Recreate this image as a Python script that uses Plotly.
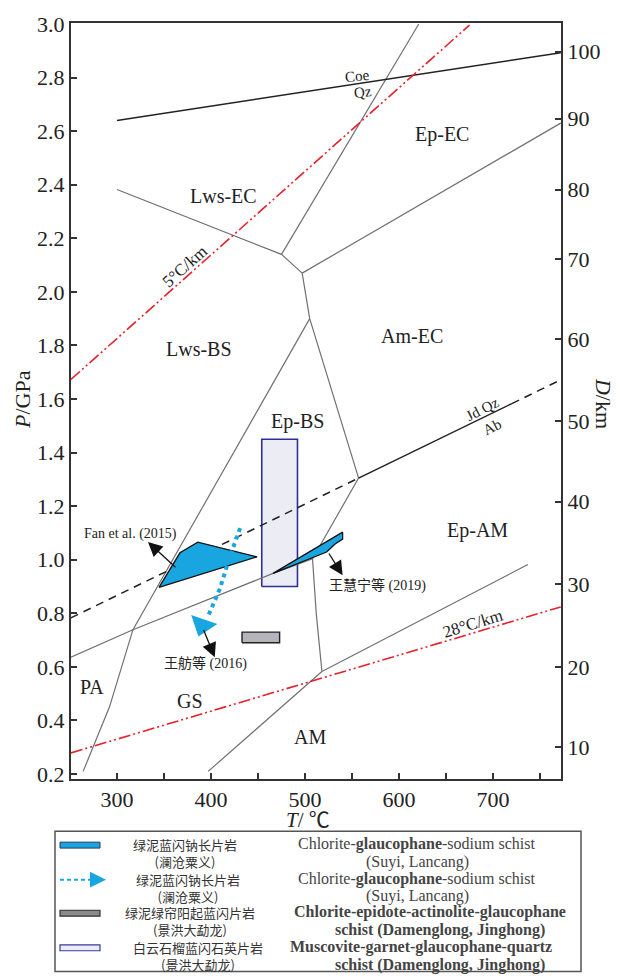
import plotly.graph_objects as go

# ---------------- data (T in °C, P in GPa) ----------------
coe_qz_T = [300, 772]
coe_qz_P = [2.64, 2.893]

lws_ec_low_T = [300, 475, 497]
lws_ec_low_P = [2.382, 2.14, 2.07]

lws_ep_ec_T = [475, 621]
lws_ep_ec_P = [2.14, 3.0]

ep_am_ec_T = [497, 772]
ep_am_ec_P = [2.07, 2.63]

am_ec_west_T = [497, 505, 557]
am_ec_west_P = [2.07, 1.90, 1.305]

lws_epbs_T = [505, 317, 292, 264]
lws_epbs_P = [1.90, 0.739, 0.45, 0.21]

gs_epbs_T = [251, 317, 466, 508, 557]
gs_epbs_P = [0.636, 0.739, 0.949, 1.004, 1.305]

gs_epam_T = [508, 512, 518]
gs_epam_P = [1.004, 0.798, 0.583]

epam_am_T = [518, 737]
epam_am_P = [0.583, 0.982]

gs_am_T = [518, 397]
gs_am_P = [0.583, 0.21]

jdqz_dash1_T = [251, 557]
jdqz_dash1_P = [0.783, 1.305]
jdqz_solid_T = [557, 720]
jdqz_solid_P = [1.305, 1.583]
jdqz_dash2_T = [720, 768]
jdqz_dash2_P = [1.583, 1.665]

geo5_T = [251, 675]
geo5_P = [1.673, 2.996]
geo28_T = [251, 772]
geo28_P = [0.279, 0.824]

fan_T = [344.7, 367, 386, 449, 344.7]
fan_P = [0.897, 1.026, 1.066, 1.011, 0.897]

wang19_T = [466, 540, 540, 532, 523, 466]
wang19_P = [0.949, 1.103, 1.077, 1.059, 1.029, 0.949]

epbs_rect_T = [454, 492]
epbs_rect_P = [0.90, 1.45]

gray_rect_T = [433, 473]
gray_rect_P = [0.69, 0.73]

path16_T = [431, 420, 409.6, 397]
path16_P = [1.118, 1.011, 0.893, 0.79]
path16_head_T = [390.8]
path16_head_P = [0.756]

depth_labels = ["100", "90", "80", "70", "60", "50", "40", "30", "20", "10"]
depth_P = [2.897, 2.647, 2.382, 2.121, 1.824, 1.518, 1.217, 0.908, 0.599, 0.301]

x_ticks = [300, 350, 400, 450, 500, 550, 600, 650, 700, 750]
x_ticktext = ["300", "", "400", "", "500", "", "600", "", "700", ""]
y_ticks = [0.2, 0.4, 0.6, 0.8, 1.0, 1.2, 1.4, 1.6, 1.8, 2.0, 2.2, 2.4, 2.6, 2.8, 3.0]

# ---------------- styles ----------------
SERIF = "Liberation Serif, Times New Roman, Noto Sans CJK SC"
CJK = "Noto Sans CJK SC"
GRAY = "#707070"
BLK = "#222222"
RED = "#e8202a"
BLUE = "#19a6e0"
REDDASH = "12px,3px,2px,3px,2px,3px"

fig = go.Figure()

def line(T, P, color=GRAY, width=1.2, dash="solid"):
    fig.add_trace(go.Scatter(x=T, y=P, mode="lines",
                             line=dict(color=color, width=width, dash=dash),
                             hoverinfo="skip", showlegend=False))

# Ep-BS rectangle
fig.add_trace(go.Scatter(
    x=[epbs_rect_T[0], epbs_rect_T[1], epbs_rect_T[1], epbs_rect_T[0], epbs_rect_T[0]],
    y=[epbs_rect_P[0], epbs_rect_P[0], epbs_rect_P[1], epbs_rect_P[1], epbs_rect_P[0]],
    mode="lines", fill="toself", fillcolor="#ececf5",
    line=dict(color="#2e2e9a", width=1.6), hoverinfo="skip", showlegend=False))

for T, P in [(lws_ec_low_T, lws_ec_low_P), (lws_ep_ec_T, lws_ep_ec_P),
             (ep_am_ec_T, ep_am_ec_P), (am_ec_west_T, am_ec_west_P),
             (lws_epbs_T, lws_epbs_P), (gs_epbs_T, gs_epbs_P),
             (gs_epam_T, gs_epam_P), (epam_am_T, epam_am_P), (gs_am_T, gs_am_P)]:
    line(T, P)

line(coe_qz_T, coe_qz_P, color=BLK, width=1.5)
line(jdqz_dash1_T, jdqz_dash1_P, color=BLK, width=1.5, dash="8px,6px")
line(jdqz_solid_T, jdqz_solid_P, color=BLK, width=1.5)
line(jdqz_dash2_T, jdqz_dash2_P, color=BLK, width=1.5, dash="8px,6px")
line(geo5_T, geo5_P, color=RED, width=1.6, dash=REDDASH)
line(geo28_T, geo28_P, color=RED, width=1.6, dash=REDDASH)

# blue polygons
for T, P in [(fan_T, fan_P), (wang19_T, wang19_P)]:
    fig.add_trace(go.Scatter(x=T, y=P, mode="lines", fill="toself", fillcolor=BLUE,
                             line=dict(color="#111111", width=1.3),
                             hoverinfo="skip", showlegend=False))

# gray rectangle
fig.add_trace(go.Scatter(
    x=[gray_rect_T[0], gray_rect_T[1], gray_rect_T[1], gray_rect_T[0], gray_rect_T[0]],
    y=[gray_rect_P[0], gray_rect_P[0], gray_rect_P[1], gray_rect_P[1], gray_rect_P[0]],
    mode="lines", fill="toself", fillcolor="#b4b4ba",
    line=dict(color="#222222", width=1.4), hoverinfo="skip", showlegend=False))

# dotted path with arrowhead
fig.add_trace(go.Scatter(x=path16_T, y=path16_P, mode="lines",
                         line=dict(color=BLUE, width=4, dash="4px,4px"),
                         hoverinfo="skip", showlegend=False))
fig.add_trace(go.Scatter(x=path16_head_T, y=path16_head_P, mode="markers",
                         marker=dict(symbol="triangle-up", size=24, angle=199, color=BLUE,
                                     line=dict(width=0)),
                         hoverinfo="skip", showlegend=False))

# dummy for right axis
fig.add_trace(go.Scatter(x=[300], y=[1.0], yaxis="y2", mode="markers",
                         marker=dict(opacity=0), hoverinfo="skip", showlegend=False))

# ---------------- text labels ----------------
labels = [
    ("Coe", 556, 2.805, 15, -6), ("Qz", 562, 2.746, 15, -6),
    ("Ep-EC", 646, 2.588, 20, 0), ("Lws-EC", 413, 2.357, 20, 0),
    ("5°C/km", 372, 2.096, 17, -42), ("Lws-BS", 387, 1.787, 20, 0),
    ("Am-EC", 614, 1.835, 20, 0), ("Ep-BS", 492.5, 1.515, 20, 0),
    ("Jd Qz", 689, 1.563, 15, -27), ("Ab", 699, 1.496, 15, -27),
    ("Ep-AM", 683, 1.11, 20, 0), ("28°C/km", 679, 0.761, 17, -17),
    ("PA", 273, 0.526, 20, 0), ("GS", 378, 0.471, 20, 0), ("AM", 505, 0.338, 20, 0),
    ("Fan et al. (2015)", 314, 1.096, 14, 0),
    ("王舫等 (2016)", 394, 0.614, 14, 0),
    ("王慧宁等 (2019)", 577, 0.904, 14, 0),
]
for txt, T, P, size, ang in labels:
    fig.add_annotation(x=T, y=P, text=txt, showarrow=False, textangle=ang,
                       font=dict(family=SERIF, size=size, color="#222222"))

# black arrows (head, tail)
arrows = [((333, 1.066), (363.8, 0.967)),
          ((404, 0.636), (391.5, 0.743)),
          ((540, 0.942), (524.5, 1.029))]
for (hx, hy), (tx, ty) in arrows:
    fig.add_annotation(x=hx, y=hy, ax=tx, ay=ty, axref="x", ayref="y", text="",
                       showarrow=True, arrowhead=2, arrowsize=2.2, arrowwidth=1.3,
                       arrowcolor="#111111", standoff=0, startstandoff=0)

# ---------------- legend (drawn in paper coords) ----------------
L, R, T0, B0 = 71, 561, 13, 779
def px(x):
    return (x - L) / (R - L)
def py(y):
    return (B0 - y) / (B0 - T0)

fig.add_shape(type="rect", xref="paper", yref="paper", x0=px(55), x1=px(581), y0=py(974), y1=py(832),
              line=dict(color="#555555", width=1.5), fillcolor="white")
fig.add_shape(type="rect", xref="paper", yref="paper", x0=px(60), x1=px(100), y0=py(849), y1=py(843),
              line=dict(color="#1f3a5a", width=1), fillcolor=BLUE)
fig.add_shape(type="line", xref="paper", yref="paper", x0=px(60), x1=px(91), y0=py(881), y1=py(881),
              line=dict(color=BLUE, width=2, dash="4px,3px"))
fig.add_shape(type="path", xref="paper", yref="paper",
              path=f"M {px(90)},{py(873)} L {px(106)},{py(881)} L {px(90)},{py(889)} Z",
              line=dict(width=0), fillcolor=BLUE)
fig.add_shape(type="rect", xref="paper", yref="paper", x0=px(60), x1=px(100), y0=py(918), y1=py(912),
              line=dict(color="#333333", width=1.2), fillcolor="#8a8a8a")
fig.add_shape(type="rect", xref="paper", yref="paper", x0=px(60), x1=px(100), y0=py(953), y1=py(947),
              line=dict(color="#3a3aa0", width=1.2), fillcolor="#ececf6")

leg_cn = [("绿泥蓝闪钠长片岩<br>(澜沧粟义)", 185, 854),
          ("绿泥蓝闪钠长片岩<br>(澜沧粟义)", 188, 889),
          ("绿泥绿帘阳起蓝闪片岩<br>(景洪大勐龙)", 190, 923),
          ("白云石榴蓝闪石英片岩<br>(景洪大勐龙)", 198, 958)]
for txt, x, y in leg_cn:
    fig.add_annotation(xref="paper", yref="paper", x=px(x), y=py(y), text=txt, showarrow=False,
                       xanchor="center", yanchor="middle", align="center", borderpad=0,
                       font=dict(family=CJK, size=13, color="#333333"))

leg_en = [("Chlorite-<b>glaucophane</b>-sodium schist", 416, 845), ("(Suyi, Lancang)", 417, 863),
          ("Chlorite-<b>glaucophane</b>-sodium schist", 416, 880), ("(Suyi, Lancang)", 417, 898),
          ("<b>Chlorite-epidote-actinolite-glaucophane</b>", 430, 914),
          ("<b>schist (Damenglong, Jinghong)</b>", 440, 932),
          ("<b>Muscovite-garnet-glaucophane-quartz</b>", 421, 949),
          ("<b>schist (Damenglong, Jinghong)</b>", 440, 967)]
for txt, x, y in leg_en:
    fig.add_annotation(xref="paper", yref="paper", x=px(x), y=py(y), text=txt, showarrow=False,
                       xanchor="center", yanchor="middle", borderpad=0,
                       font=dict(family="Liberation Serif", size=16, color="#444444"))

# axis titles
fig.add_annotation(xref="paper", yref="paper", x=px(22), y=py(395), text="<i>P</i>/GPa",
                   showarrow=False, textangle=-90, xanchor="center", yanchor="middle",
                   font=dict(family=SERIF, size=22, color="#222222"))
fig.add_annotation(xref="paper", yref="paper", x=px(603), y=py(398), text="<i>D</i>/km",
                   showarrow=False, textangle=90, xanchor="center", yanchor="middle",
                   font=dict(family=SERIF, size=22, color="#222222"))
fig.add_annotation(xref="paper", yref="paper", x=px(308), y=py(821), text="<i>T</i>/ ℃",
                   showarrow=False, xanchor="center", yanchor="middle",
                   font=dict(family=SERIF, size=21, color="#222222"))

axis_common = dict(showgrid=False, zeroline=False, showline=True, linecolor="#333333",
                   linewidth=2, ticks="inside", tickcolor="#333333", tickwidth=1.5,
                   tickfont=dict(family="Liberation Serif", size=22, color="#222222"))

fig.update_layout(
    width=617, height=977,
    margin=dict(l=L, r=617 - R, t=T0, b=977 - B0),
    paper_bgcolor="white", plot_bgcolor="white",
    showlegend=False,
    xaxis=dict(range=[251.1, 772.3], tickvals=x_ticks, ticktext=x_ticktext, ticklen=6,
               mirror=True, ticklabelstandoff=0, **axis_common),
    yaxis=dict(range=[0.1816, 3.0037], tickvals=y_ticks, tickformat=".1f", ticklen=6,
               **axis_common),
    yaxis2=dict(range=[0.1816, 3.0037], overlaying="y", side="right", tickvals=depth_P,
                ticktext=depth_labels, ticklen=6, **axis_common),
)

fig.write_html("out.html", config={"displayModeBar": False},
               post_script="document.body.style.margin='0';document.body.style.overflow='hidden';")
